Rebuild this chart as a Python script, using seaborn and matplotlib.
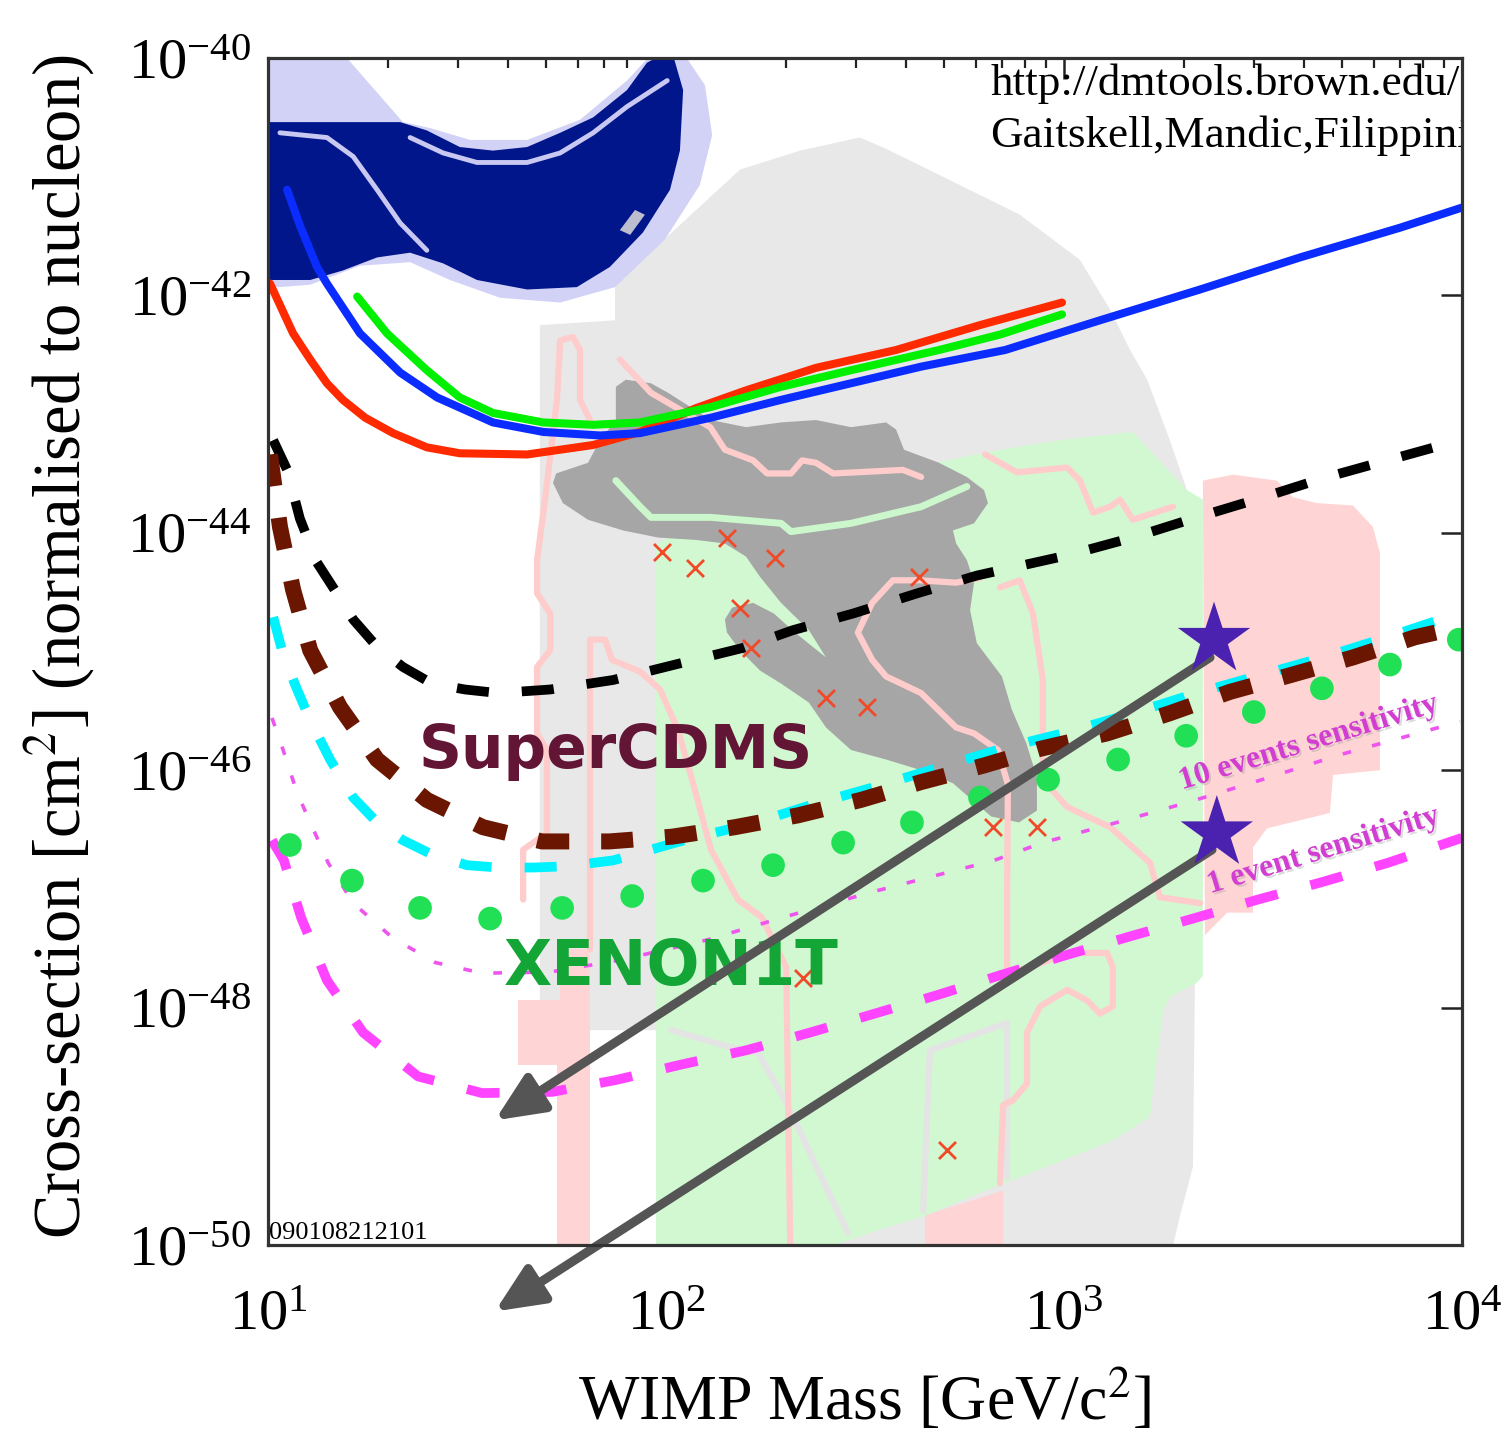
import numpy as np
import pandas as pd
import matplotlib
matplotlib.use("Agg")
import matplotlib.pyplot as plt
import matplotlib.patheffects as pe
from matplotlib.ticker import FixedLocator, NullLocator, LogLocator, LogFormatterMathtext, NullFormatter
import seaborn as sns

# ---------------- data: log10(WIMP mass [GeV/c^2]) , log10(cross-section [cm^2]) ----------------
# solid limit curves
red_logm = [1.005, 1.063, 1.106, 1.148, 1.188, 1.244, 1.314, 1.399, 1.482, 1.651, 1.817, 1.935, 2.075, 2.201, 2.377, 2.578, 2.789, 2.995]
red_logs = [-41.90, -42.32, -42.54, -42.74, -42.88, -43.03, -43.16, -43.28, -43.33, -43.34, -43.26, -43.15, -42.95, -42.80, -42.61, -42.46, -42.25, -42.06]
green_logm = [1.224, 1.299, 1.399, 1.482, 1.565, 1.691, 1.817, 1.935, 2.113, 2.289, 2.465, 2.686, 2.839, 2.995]
green_logs = [-42.01, -42.32, -42.63, -42.86, -42.99, -43.07, -43.09, -43.07, -42.94, -42.77, -42.63, -42.46, -42.33, -42.16]
blue_logm = [1.048, 1.080, 1.123, 1.148, 1.231, 1.332, 1.425, 1.565, 1.691, 1.834, 1.935, 2.113, 2.289, 2.465, 2.641, 2.852, 3.090, 3.342, 3.593, 3.844, 4.0]
blue_logs = [-41.11, -41.41, -41.76, -41.90, -42.32, -42.65, -42.86, -43.07, -43.15, -43.18, -43.16, -43.03, -42.88, -42.74, -42.60, -42.46, -42.21, -41.95, -41.68, -41.43, -41.26]

# projected sensitivities (dashed)
black_logm = [1.013, 1.048, 1.080, 1.123, 1.173, 1.214, 1.274, 1.339, 1.412, 1.495, 1.578, 1.709, 1.867, 2.035, 2.193, 2.319, 2.470, 2.631, 2.781, 3.008, 3.173, 3.334, 3.492, 3.651, 3.812, 3.995]
black_logs = [-43.22, -43.47, -43.88, -44.25, -44.51, -44.73, -44.96, -45.13, -45.27, -45.32, -45.35, -45.32, -45.24, -45.10, -44.97, -44.82, -44.68, -44.51, -44.36, -44.19, -44.04, -43.87, -43.71, -43.54, -43.39, -43.22]
brown_logm = [1.005, 1.030, 1.063, 1.106, 1.181, 1.274, 1.399, 1.540, 1.688, 1.857, 2.015, 2.173, 2.332, 2.490, 2.641, 2.799, 2.940, 3.108, 3.266, 3.417, 3.568, 3.726, 3.882, 4.0]
brown_logs = [-43.34, -43.95, -44.48, -44.99, -45.47, -45.91, -46.25, -46.48, -46.60, -46.60, -46.56, -46.48, -46.38, -46.25, -46.10, -45.96, -45.82, -45.69, -45.52, -45.34, -45.20, -45.05, -44.88, -44.79]
cyan_logm = [1.013, 1.035, 1.068, 1.106, 1.156, 1.214, 1.274, 1.339, 1.412, 1.500, 1.578, 1.666, 1.746, 1.867, 2.035, 2.226, 2.377, 2.525, 2.693, 2.852, 3.008, 3.173, 3.334, 3.492, 3.651, 3.812, 4.0]
cyan_logs = [-44.71, -44.99, -45.28, -45.58, -45.91, -46.23, -46.44, -46.59, -46.71, -46.80, -46.82, -46.82, -46.81, -46.76, -46.60, -46.44, -46.28, -46.14, -45.97, -45.81, -45.68, -45.52, -45.35, -45.20, -45.05, -44.88, -44.67]
xe1t_logm = [1.055, 1.211, 1.382, 1.558, 1.739, 1.915, 2.093, 2.269, 2.445, 2.618, 2.789, 2.960, 3.136, 3.307, 3.477, 3.648, 3.819, 3.992]
xe1t_logs = [-46.63, -46.93, -47.16, -47.25, -47.16, -47.06, -46.93, -46.80, -46.61, -46.44, -46.23, -46.08, -45.91, -45.71, -45.51, -45.31, -45.11, -44.90]
one_evt_logm = [1.010, 1.040, 1.083, 1.148, 1.239, 1.377, 1.538, 1.714, 1.874, 2.038, 2.201, 2.362, 2.525, 2.686, 2.837, 3.003, 3.166, 3.324, 3.487, 3.651, 3.814, 4.0]
one_evt_logs = [-46.59, -46.76, -47.24, -47.77, -48.21, -48.58, -48.72, -48.71, -48.61, -48.48, -48.36, -48.21, -48.05, -47.89, -47.73, -47.56, -47.40, -47.25, -47.09, -46.94, -46.78, -46.57]
ten_evt_logm = [1.010, 1.035, 1.073, 1.126, 1.151, 1.214, 1.312, 1.420, 1.538, 1.709, 1.884, 2.103, 2.284, 2.513, 2.824, 2.947, 3.133, 3.312, 3.497, 3.693, 3.920, 3.995]
ten_evt_logs = [-45.56, -45.80, -46.19, -46.59, -46.78, -47.12, -47.41, -47.62, -47.71, -47.70, -47.60, -47.43, -47.25, -47.03, -46.76, -46.61, -46.44, -46.27, -46.08, -45.87, -45.66, -45.59]

# theory regions (filled)
lgray_logm = [1.683, 1.872, 1.872, 2.186, 2.337, 2.487, 2.550, 2.714, 2.889, 3.040, 3.116, 3.166, 3.209, 3.266, 3.317, 3.334, 3.329, 3.324, 3.291, 3.274, 1.990, 1.990, 1.683]
lgray_logs = [-42.25, -42.21, -41.91, -40.94, -40.78, -40.67, -40.76, -41.03, -41.32, -41.70, -42.12, -42.46, -42.71, -43.22, -43.72, -44.23, -47.79, -49.34, -49.76, -50.0, -50.0, -48.19, -48.19]
lgreen_logm = [1.975, 1.975, 2.425, 2.538, 2.646, 2.789, 2.957, 3.123, 3.216, 3.249, 3.266, 3.334, 3.349, 3.349, 3.309, 3.173, 2.990, 2.839, 2.588, 2.337, 2.085]
lgreen_logs = [-44.10, -50.0, -50.0, -49.87, -49.76, -49.56, -49.34, -49.12, -48.92, -48.02, -47.91, -47.79, -47.73, -43.72, -43.64, -43.15, -43.22, -43.30, -43.47, -43.64, -43.85]
pink_logm = [3.349, 3.425, 3.535, 3.575, 3.636, 3.726, 3.776, 3.794, 3.794, 3.676, 3.668, 3.510, 3.475, 3.475, 3.410, 3.354]
pink_logs = [-43.56, -43.51, -43.56, -43.70, -43.75, -43.77, -43.95, -44.17, -46.00, -46.04, -46.36, -46.49, -46.65, -47.20, -47.20, -47.39]
pinkstrip_logm = [1.628, 1.734, 1.734, 1.809, 1.809, 1.726, 1.726, 1.628]
pinkstrip_logs = [-47.94, -47.94, -47.51, -47.51, -50.0, -50.0, -48.48, -48.48]
pinkfoot_logm = [2.651, 2.847, 2.847, 2.651]
pinkfoot_logs = [-49.75, -49.54, -50.0, -50.0]
dgray_logm = [1.874, 1.899, 1.962, 2.005, 2.113, 2.201, 2.289, 2.377, 2.465, 2.553, 2.578, 2.598, 2.686, 2.756, 2.799, 2.809, 2.774, 2.721, 2.729, 2.756, 2.774, 2.764, 2.781, 2.844, 2.869, 2.905, 2.932, 2.932, 2.887, 2.817, 2.721, 2.641, 2.553, 2.465, 2.402, 2.359, 2.289, 2.236, 2.186, 2.153, 2.148, 2.166, 2.219, 2.271, 2.324, 2.402, 2.359, 2.289, 2.236, 2.201, 2.148, 2.075, 1.980, 1.892, 1.804, 1.741, 1.716, 1.724, 1.804, 1.834, 1.874]
dgray_logs = [-42.77, -42.71, -42.74, -42.82, -43.05, -43.11, -43.07, -43.05, -43.11, -43.07, -43.13, -43.30, -43.41, -43.53, -43.64, -43.75, -43.92, -43.98, -44.09, -44.23, -44.42, -44.65, -44.93, -45.21, -45.49, -45.77, -46.06, -46.34, -46.44, -46.39, -46.11, -46.00, -45.91, -45.83, -45.64, -45.43, -45.27, -45.16, -44.99, -44.84, -44.73, -44.63, -44.59, -44.68, -44.84, -45.05, -44.82, -44.59, -44.37, -44.20, -44.09, -44.06, -44.04, -43.98, -43.89, -43.75, -43.58, -43.50, -43.41, -43.22, -43.05]
navy_logm = [0.99, 1.332, 1.399, 1.482, 1.565, 1.651, 1.734, 1.817, 1.902, 1.952, 1.985, 2.018, 2.043, 2.035, 2.010, 1.942, 1.859, 1.776, 1.651, 1.525, 1.440, 1.357, 1.274, 1.188, 1.106, 0.99]
navy_logs = [-40.54, -40.54, -40.61, -40.75, -40.78, -40.75, -40.63, -40.50, -40.27, -40.04, -39.98, -39.98, -40.27, -40.78, -41.11, -41.47, -41.76, -41.93, -41.95, -41.87, -41.73, -41.64, -41.68, -41.79, -41.87, -41.87]
halo_logm = [0.99, 1.193, 1.339, 1.407, 1.508, 1.651, 1.784, 1.902, 1.960, 2.048, 2.098, 2.116, 2.085, 1.997, 1.872, 1.734, 1.583, 1.457, 1.357, 1.231, 1.106, 0.99]
halo_logs = [-39.98, -39.98, -40.54, -40.59, -40.69, -40.69, -40.52, -40.19, -39.98, -39.98, -40.23, -40.65, -41.07, -41.53, -41.93, -42.06, -42.02, -41.87, -41.72, -41.75, -41.91, -41.94]
speck_logm = [1.884, 1.922, 1.947, 1.910]
speck_logs = [-41.45, -41.28, -41.32, -41.49]

# contour outlines
navyline1_logm = [1.030, 1.148, 1.214, 1.274, 1.332, 1.399]
navyline1_logs = [-40.63, -40.67, -40.83, -41.11, -41.39, -41.62]
navyline2_logm = [1.357, 1.440, 1.525, 1.651, 1.734, 1.817, 1.902, 2.003]
navyline2_logs = [-40.67, -40.80, -40.88, -40.88, -40.80, -40.63, -40.41, -40.19]
gstripe_logm = [1.874, 1.935, 1.962, 2.113, 2.289, 2.314, 2.465, 2.641, 2.756]
gstripe_logs = [-43.56, -43.78, -43.87, -43.87, -43.92, -43.99, -43.92, -43.78, -43.61]
pink_lines = [
    ([1.641, 1.641, 1.701, 1.701, 1.676, 1.676, 1.709, 1.709, 1.676, 1.676, 1.696, 1.726, 1.734, 1.766, 1.784, 1.784, 1.809],
     [-47.09, -46.67, -46.53, -45.83, -45.69, -45.13, -44.99, -44.68, -44.51, -44.23, -43.72, -42.88, -42.38, -42.35, -42.46, -42.88, -43.05]),
    ([1.809, 1.809, 1.847, 1.864, 1.935, 1.985, 2.030, 2.068, 2.113, 2.181, 2.241, 2.302, 2.312],
     [-47.51, -44.90, -44.90, -45.07, -45.17, -45.32, -45.66, -46.11, -46.67, -47.09, -47.24, -47.66, -50.0]),
    ([1.884, 1.962, 2.111, 2.148, 2.219, 2.254, 2.314, 2.342, 2.377, 2.420, 2.595, 2.641],
     [-42.54, -42.82, -43.11, -43.30, -43.39, -43.50, -43.50, -43.39, -43.41, -43.50, -43.47, -43.53]),
    ([2.789, 2.729, 2.638, 2.570, 2.518, 2.482, 2.518, 2.553, 2.641, 2.729, 2.774, 2.834, 2.859, 2.857, 2.857, 2.915, 3.008, 3.108, 3.123, 3.123, 3.090, 3.058, 3.008, 2.940, 2.907, 2.907, 2.872, 2.847, 2.839],
     [-44.38, -44.42, -44.40, -44.40, -44.59, -44.84, -45.07, -45.21, -45.35, -45.64, -45.69, -45.83, -46.12, -47.09, -47.71, -47.66, -47.54, -47.54, -47.66, -47.99, -48.05, -47.94, -47.85, -47.99, -48.21, -48.64, -48.78, -48.82, -49.48]),
    ([2.839, 2.889, 2.922, 2.947, 2.947, 3.008, 3.116, 3.216, 3.241, 3.342],
     [-44.46, -44.40, -44.68, -45.24, -46.08, -46.31, -46.48, -46.78, -47.07, -47.12]),
    ([2.802, 2.882, 3.008, 3.040, 3.073, 3.116, 3.141, 3.173, 3.274],
     [-43.34, -43.49, -43.45, -43.56, -43.83, -43.78, -43.72, -43.89, -43.78]),
]
gray_lines = [
    ([2.646, 2.663, 2.857, 2.857], [-49.71, -48.36, -48.13, -49.43]),
    ([2.013, 2.158, 2.231, 2.302, 2.457], [-48.19, -48.33, -48.38, -48.80, -49.90]),
]

# candidate-model crosses
cross_logm = [1.990, 2.073, 2.153, 2.274, 2.186, 2.214, 2.402, 2.505, 2.636, 2.822, 2.932, 2.344, 2.706]
cross_logs = [-44.16, -44.30, -44.04, -44.21, -44.63, -44.97, -45.39, -45.47, -44.37, -46.48, -46.48, -47.75, -49.20]

# stars and arrows (benchmark points and their projected shifts)
star_logm = [3.377, 3.384]
star_logs = [-44.90, -46.53]
arrow_tail_logm = [3.367, 3.372]
arrow_tail_logs = [-45.05, -46.67]
arrow_tip_logm = [1.570, 1.570]
arrow_tip_logs = [-48.95, -50.56]

ytick_exps = [-40, -42, -44, -46, -48, -50]
xtick_exps = [1, 2, 3, 4]

# ---------------- figure ----------------
sns.set_style("white")
plt.rcParams["font.family"] = ["Liberation Serif", "DejaVu Serif"]
plt.rcParams["mathtext.fontset"] = "stix"
for key in ["text.color", "axes.labelcolor", "xtick.color", "ytick.color", "xtick.labelcolor", "ytick.labelcolor"]:
    plt.rcParams[key] = "black"

fig = plt.figure(figsize=(15.10, 14.36), dpi=100)
ax = fig.add_axes([0.1775, 0.1330, 0.7907, 0.8266])
ax.set_xscale("log")
ax.set_yscale("log")
ax.set_xlim(10, 1e4)
ax.set_ylim(1e-50, 1e-40)


def pw(v):
    return 10.0 ** np.asarray(v, dtype=float)


def region(lm, ls, color, z):
    ax.fill(pw(lm), pw(ls), color=color, lw=0, zorder=z)


def curve(lm, ls, color, lw, z, ls_style="-", cap="round"):
    df = pd.DataFrame({"m": pw(lm), "s": pw(ls)})
    sns.lineplot(data=df, x="m", y="s", sort=False, estimator=None, color=color,
                 lw=lw, linestyle=ls_style, zorder=z, ax=ax,
                 solid_capstyle=cap, dash_capstyle="butt", solid_joinstyle="round",
                 dash_joinstyle="round")


# background regions
region(lgray_logm, lgray_logs, "#E8E8E8", 1.0)
region(lgreen_logm, lgreen_logs, "#D2F8D2", 1.1)
region(pink_logm, pink_logs, "#FFD4D4", 1.2)
region(pinkstrip_logm, pinkstrip_logs, "#FFD4D4", 1.2)
region(pinkfoot_logm, pinkfoot_logs, "#FFD4D4", 1.2)
for lm, ls in gray_lines:
    curve(lm, ls, "#E4E4E4", 4.5, 1.25)
region(dgray_logm, dgray_logs, "#A6A6A6", 1.4)
for lm, ls in pink_lines:
    curve(lm, ls, "#FFCCCC", 4.5, 1.5)
curve(gstripe_logm, gstripe_logs, "#CCF6CC", 5, 1.55)
region(halo_logm, halo_logs, "#D2D2F7", 1.6)
region(navy_logm, navy_logs, "#00168A", 1.7)
curve(navyline1_logm, navyline1_logs, "#C8C8F2", 3.5, 1.75)
curve(navyline2_logm, navyline2_logs, "#C8C8F2", 3.5, 1.75)
region(speck_logm, speck_logs, "#BDBDD0", 1.76)

# crosses
sns.scatterplot(x=pw(cross_logm), y=pw(cross_logs), marker="x", s=150, color="#F04A28",
                linewidth=2.0, zorder=2, ax=ax)

# solid curves
curve(red_logm, red_logs, "#FF2A00", 5.8, 3.0)
curve(blue_logm, blue_logs, "#0A2CFF", 5.8, 3.1)
curve(green_logm, green_logs, "#00F000", 5.8, 3.2)

# dashed / dotted projections
curve(ten_evt_logm, ten_evt_logs, "#EE55EE", 2.6, 3.3, ls_style=(0, (2.4, 6.0)), cap="butt")
curve(one_evt_logm, one_evt_logs, "#FF44FF", 7.0, 3.4, ls_style=(0, (3.4, 3.5)), cap="butt")
curve(black_logm, black_logs, "#000000", 7.0, 3.5, ls_style=(0, (3.3, 3.4)), cap="butt")
curve(cyan_logm, cyan_logs, "#00F2FF", 7.0, 3.6, ls_style=(0, (3.3, 3.4)), cap="butt")
curve(brown_logm, brown_logs, "#6A1600", 11.5, 3.7, ls_style=(0, (2.0, 2.0)), cap="butt")

# XENON1T dots
sns.scatterplot(x=pw(xe1t_logm), y=pw(xe1t_logs), marker="o", s=290, color="#22E055",
                edgecolor="none", zorder=4, ax=ax)

# labels inside plot
ax.text(pw(1.874), pw(-45.98), "SuperCDMS", family="DejaVu Sans", fontweight="bold",
        fontsize=43, color="#631535", ha="center", va="baseline", zorder=5)
ax.text(pw(2.013), pw(-47.81), "XENON1T", family="DejaVu Sans", fontweight="bold",
        fontsize=45, color="#13A637", ha="center", va="baseline", zorder=5)
shadow = [pe.SimplePatchShadow(offset=(1.5, -1.5), shadow_rgbFace="#999999", alpha=0.35), pe.Normal()]
ax.text(pw(3.621), pw(-45.83), "10 events sensitivity", fontsize=23, fontweight="bold",
        color="#D23ED2", rotation=17, rotation_mode="anchor", ha="center", va="baseline",
        zorder=5, path_effects=shadow)
ax.text(pw(3.658), pw(-46.74), "1 event sensitivity", fontsize=23, fontweight="bold",
        color="#D23ED2", rotation=17, rotation_mode="anchor", ha="center", va="baseline",
        zorder=5, path_effects=shadow)

ax.text(0.605, 0.969, "http://dmtools.brown.edu/", transform=ax.transAxes, fontsize=32.5,
        ha="left", va="baseline", clip_on=True, zorder=6)
ax.text(0.605, 0.925, "Gaitskell,Mandic,Filippini", transform=ax.transAxes, fontsize=32.5,
        ha="left", va="baseline", clip_on=True, zorder=6)
ax.text(0.001, 0.005, "090108212101", transform=ax.transAxes, fontsize=19,
        ha="left", va="baseline", zorder=6)

# arrows and stars
for tm, ts, hm, hs in zip(arrow_tail_logm, arrow_tail_logs, arrow_tip_logm, arrow_tip_logs):
    ax.annotate("", xy=(pw(hm), pw(hs)), xytext=(pw(tm), pw(ts)), xycoords="data",
                arrowprops=dict(arrowstyle="-|>,head_length=1.45,head_width=0.65",
                                color="#555555", lw=6.5, shrinkA=0, shrinkB=0,
                                mutation_scale=20),
                annotation_clip=False, zorder=7)
sns.scatterplot(x=pw(star_logm), y=pw(star_logs), marker="*", s=3000, color="#4B21B0",
                edgecolor="none", zorder=8, ax=ax)

# axes styling
ax.yaxis.set_major_locator(FixedLocator([10.0 ** e for e in ytick_exps]))
ax.yaxis.set_minor_locator(NullLocator())
ax.yaxis.set_major_formatter(LogFormatterMathtext())
ax.xaxis.set_major_locator(FixedLocator([10.0 ** e for e in xtick_exps]))
ax.xaxis.set_minor_locator(LogLocator(base=10, subs=np.arange(2, 10)))
ax.xaxis.set_minor_formatter(NullFormatter())
ax.tick_params(which="both", direction="in", top=True, right=True, color="#222222",
               labelcolor="black")
ax.tick_params(which="major", length=15, width=1.8, labelsize=42)
ax.tick_params(which="minor", length=7.5, width=1.6)
ax.tick_params(axis="x", which="major", pad=32)
ax.tick_params(axis="y", which="major", pad=12)
for t in ax.get_yticklabels():
    t.set_verticalalignment("center_baseline")
for s in ax.spines.values():
    s.set_linewidth(2.3)
    s.set_color("#333333")
    s.set_zorder(9)

ax.set_xlabel("WIMP Mass [GeV/c$^2$]", fontsize=46, color="black")
ax.set_ylabel("Cross-section [cm$^2$] (normalised to nucleon)", fontsize=48, color="black")
ax.xaxis.set_label_coords(0.5, -0.103)
ax.yaxis.set_label_coords(-0.143, 0.504)
ax.grid(False)

fig.savefig("out.png", dpi=100)
